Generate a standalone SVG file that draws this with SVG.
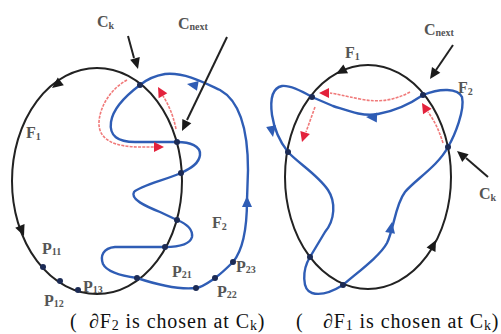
<svg xmlns="http://www.w3.org/2000/svg" xmlns:xlink="http://www.w3.org/1999/xlink" width="501" height="334" viewBox="0 0 501 334">
<style>
.ell{fill:none;stroke:#222;stroke-width:2}
.blue{fill:none;stroke:#2f5db5;stroke-width:2.4;stroke-linejoin:round}
.red{fill:none;stroke:#f07a7a;stroke-width:1.6;stroke-dasharray:3 1.2}
.ptr{stroke:#222;stroke-width:2;fill:none}
.dot{fill:#1c2b55}
.lbl{font-family:"Liberation Serif",serif;font-size:16px;font-weight:bold;fill:#555}
.cap{font-family:"Liberation Serif",serif;font-size:20px;letter-spacing:0.9px;fill:#111}
.ahk{fill:#1a1a1a}
.ahb{fill:#2f5db5}
.ahr{fill:#e3223c}
</style>
<defs>
<path id="ah" d="M0,0 L-11,-5 L-11,5 Z"/>
<path id="ahs" d="M0,0 L-10,-5 L-10,5 Z"/>
</defs>

<g id="left-figure">
<g id="F1-left">
<ellipse class="ell" cx="97" cy="181" rx="85" ry="113"/>
<use href="#ah" class="ahk" transform="translate(52,88) rotate(143)"/>
<use href="#ah" class="ahk" transform="translate(24,236) rotate(68)"/>
</g>
<g id="F2-left">
<path class="blue" d="M140,85 C128,94 113,108 111,122 C109,136 118,142 135,142 L177,142 C190,142 201,146 200,155 C199,164 190,169 181,173 C165,180 140,186 134,192 C130,199 145,206 160,212 L177,220 C187,224 193,230 192,237 C190,244 180,247 165,247 L115,247 C103,248 100,256 103,264 C107,272 122,276 137,278 C155,284 178,290 196,288 C203,287 209,282 215,278 C222,273 228,267 233,262 C243,250 247,230 247,200 L248,170 C248,125 238,100 220,90 C205,83 185,72 165,74 C153,76 146,80 140,85 Z"/>
<use href="#ah" class="ahb" transform="translate(187,84) rotate(190)"/>
<use href="#ah" class="ahb" transform="translate(247,196) rotate(-90)"/>
</g>
<g id="red-left">
<path class="red" d="M127,80 C112,88 100,105 99,122 C98,140 115,147 140,147 L154,147"/>
<use href="#ahs" class="ahr" transform="translate(164,147)"/>
<path class="red" d="M176,129 C173,114 168,104 163,96"/>
<use href="#ahs" class="ahr" transform="translate(158,87) rotate(-120)"/>
</g>
<g id="dots-left">
<circle class="dot" cx="140" cy="85" r="3"/>
<circle class="dot" cx="177" cy="142" r="3"/>
<circle class="dot" cx="181" cy="173" r="3"/>
<circle class="dot" cx="177" cy="220" r="3"/>
<circle class="dot" cx="165" cy="247" r="3"/>
<circle class="dot" cx="137" cy="278" r="3"/>
<circle class="dot" cx="43" cy="267" r="3"/>
<circle class="dot" cx="60" cy="281" r="3"/>
<circle class="dot" cx="78" cy="290" r="3"/>
<circle class="dot" cx="196" cy="288" r="3"/>
<circle class="dot" cx="215" cy="278" r="3"/>
<circle class="dot" cx="233" cy="262" r="3"/>
</g>
<g id="pointers-left">
<line class="ptr" x1="128" y1="36" x2="134" y2="58"/>
<use href="#ah" class="ahk" transform="translate(138,69) rotate(74)"/>
<line class="ptr" x1="227" y1="37" x2="187" y2="120"/>
<use href="#ah" class="ahk" transform="translate(182,131) rotate(116)"/>
</g>
<g id="labels-left">
<text class="lbl" x="97" y="27">C<tspan font-size="10" dy="2">k</tspan></text>
<text class="lbl" x="178" y="29">C<tspan font-size="10" dy="1">next</tspan></text>
<text class="lbl" x="26" y="138">F<tspan font-size="10" dy="2">1</tspan></text>
<text class="lbl" x="42" y="254">P<tspan font-size="10" dy="1">11</tspan></text>
<text class="lbl" x="44" y="306">P<tspan font-size="10" dy="1">12</tspan></text>
<text class="lbl" x="83" y="292">P<tspan font-size="10" dy="1">13</tspan></text>
<text class="lbl" x="172" y="277">P<tspan font-size="10" dy="1">21</tspan></text>
<text class="lbl" x="217" y="297">P<tspan font-size="10" dy="1">22</tspan></text>
<text class="lbl" x="236" y="272">P<tspan font-size="10" dy="1">23</tspan></text>
<text class="lbl" x="212" y="228">F<tspan font-size="10" dy="2">2</tspan></text>
</g>
<text class="cap" x="70" y="328">(</text>
<text class="cap" x="89" y="328">∂F<tspan font-size="14" dy="2">2</tspan><tspan dy="-2"> is chosen at C</tspan><tspan font-size="14" dy="2">k</tspan><tspan dy="-2">)</tspan></text>
</g>

<g id="right-figure">
<g id="F1-right">
<ellipse class="ell" cx="368" cy="177" rx="83" ry="112"/>
<use href="#ah" class="ahk" transform="translate(336,74) rotate(152)"/>
<use href="#ah" class="ahk" transform="translate(436,240) rotate(-63)"/>
</g>
<g id="F2-right">
<path class="blue" d="M423,95 C410,104 395,111 378,114 C362,117 346,110 333,106 L312,97 C300,90 290,85 282,86 C272,88 270,100 272,115 C274,128 280,142 288,152 C298,163 318,175 328,190 C336,202 335,220 325,232 L310,257 C302,270 302,290 312,293 C322,296 335,290 343,285 C358,272 380,256 387,243 C394,229 395,205 405,192 C415,180 438,166 448,147 C455,135 465,110 462,97 C458,88 440,88 423,95 Z"/>
<use href="#ah" class="ahb" transform="translate(366,117) rotate(182)"/>
<use href="#ah" class="ahb" transform="translate(273,137) rotate(80)"/>
<use href="#ah" class="ahb" transform="translate(392,222) rotate(-80)"/>
</g>
<g id="red-right">
<path class="red" d="M410,92 C395,100 380,103 360,99 C345,96 337,94 330,93"/>
<use href="#ahs" class="ahr" transform="translate(319,93) rotate(180)"/>
<path class="red" d="M315,107 L306,132"/>
<use href="#ahs" class="ahr" transform="translate(302,142) rotate(108)"/>
<path class="red" d="M443,143 C439,130 434,120 428,112"/>
<use href="#ahs" class="ahr" transform="translate(422,103) rotate(-122)"/>
</g>
<g id="dots-right">
<circle class="dot" cx="423" cy="95" r="3"/>
<circle class="dot" cx="448" cy="147" r="3"/>
<circle class="dot" cx="312" cy="97" r="3"/>
<circle class="dot" cx="288" cy="152" r="3"/>
<circle class="dot" cx="310" cy="257" r="3"/>
<circle class="dot" cx="343" cy="285" r="3"/>
</g>
<g id="pointers-right">
<line class="ptr" x1="453" y1="45" x2="436" y2="70"/>
<use href="#ah" class="ahk" transform="translate(430,79) rotate(124)"/>
<line class="ptr" x1="488" y1="177" x2="466" y2="158"/>
<use href="#ah" class="ahk" transform="translate(457,151) rotate(-140)"/>
</g>
<g id="labels-right">
<text class="lbl" x="345" y="58">F<tspan font-size="10" dy="2">1</tspan></text>
<text class="lbl" x="424" y="35">C<tspan font-size="10" dy="1">next</tspan></text>
<text class="lbl" x="458" y="93">F<tspan font-size="10" dy="2">2</tspan></text>
<text class="lbl" x="479" y="199">C<tspan font-size="10" dy="2">k</tspan></text>
</g>
<text class="cap" x="296" y="328">(</text>
<text class="cap" x="323" y="328">∂F<tspan font-size="14" dy="2">1</tspan><tspan dy="-2"> is chosen at C</tspan><tspan font-size="14" dy="2">k</tspan><tspan dy="-2">)</tspan></text>
</g>
</svg>
